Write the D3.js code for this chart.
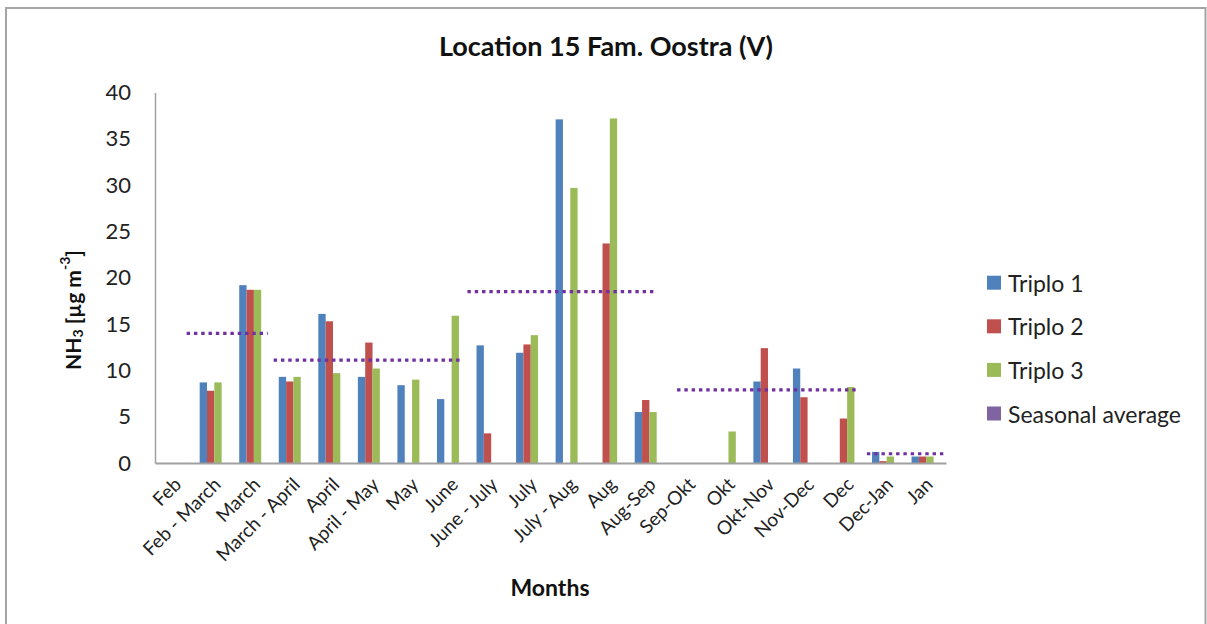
<!DOCTYPE html>
<html><head><meta charset="utf-8">
<script src="https://cdn.jsdelivr.net/npm/d3@7"></script>
<style>body{margin:0;background:#fff}svg{display:block;font-family:Lato,'Open Sans',sans-serif}</style>
</head><body><svg id="c" width="1207" height="624"></svg>
<script>
const categories = ["Feb","Feb - March","March","March - April","April","April - May","May","June","June - July","July","July - Aug","Aug","Aug-Sep","Sep-Okt","Okt","Okt-Nov","Nov-Dec","Dec","Dec-Jan","Jan"];
const triplo1 = [null,8.7,19.2,9.3,16.1,9.3,8.4,6.9,12.7,11.9,37.1,null,5.5,null,null,8.8,10.2,null,1.2,0.7];
const triplo2 = [null,7.8,18.7,8.8,15.3,13.0,null,null,3.2,12.8,null,23.7,6.8,null,null,12.4,7.1,4.8,0.2,0.7];
const triplo3 = [null,8.7,18.7,9.3,9.7,10.2,9.0,15.9,null,13.8,29.7,37.2,5.5,null,3.4,null,null,8.2,0.7,0.7];
const seriesNames = ["Triplo 1","Triplo 2","Triplo 3","Seasonal average"];
const seriesColors = ["#4f81bd","#c0504d","#9bbb59","#8064a2"];
// seasonal averages: value and span in category-index units
const seasonalAvg = [14.0,11.1,18.5,7.9,1.0];
const seasonFrom = [0.8,3.0,7.9,13.2,18.0];
const seasonTo = [2.85,7.8,12.7,17.8,19.95];
const yTicks = [0,5,10,15,20,25,30,35,40];

const svg = d3.select("#c");
const L = 155, R = 946, T = 92.5, B = 463;
const axisColor = "#a0a0a0";

// outer border
svg.append("rect").attr("x",6).attr("y",8).attr("width",1199.5).attr("height",630)
  .attr("fill","none").attr("stroke","#a5a5a5").attr("stroke-width",2);

const y = d3.scaleLinear().domain([0,40]).range([B,T]);
const x0 = d3.scaleBand().domain(categories).range([L,R]).padding(0);
const x1 = d3.scaleBand().domain(seriesNames).range([0,x0.bandwidth()]).paddingInner(0).paddingOuter(0.7);
const xi = d3.scaleLinear().domain([0,categories.length]).range([L,R]);

// bars
const values = [triplo1,triplo2,triplo3];
values.forEach((arr,si)=>{
  svg.append("g").selectAll("rect").data(arr.map((v,i)=>({v,c:categories[i]})).filter(d=>d.v!=null))
    .join("rect")
    .attr("x",d=>x0(d.c)+x1(seriesNames[si]))
    .attr("width",x1.bandwidth())
    .attr("y",d=>y(d.v))
    .attr("height",d=>B-y(d.v))
    .attr("fill",seriesColors[si]);
});

// axes
const yAxis = svg.append("g").attr("transform",`translate(${L},0)`)
  .call(d3.axisLeft(y).tickValues(yTicks).tickSize(0).tickPadding(24));
yAxis.select(".domain").attr("stroke",axisColor).attr("stroke-width",1.5);
yAxis.selectAll("text").attr("font-size",22).attr("fill","#222").attr("font-family","Lato");

const xAxis = svg.append("g").attr("transform",`translate(0,${B})`)
  .call(d3.axisBottom(x0).tickSize(0).tickPadding(0));
xAxis.select(".domain").attr("stroke",axisColor).attr("stroke-width",2);
xAxis.selectAll("text")
  .attr("font-size",19).attr("fill","#222").attr("font-family","Lato")
  .attr("text-anchor","end").attr("dy","0.35em").attr("y",0)
  .attr("transform","translate(3,18) rotate(-45)");

// seasonal average dotted lines
svg.append("g").selectAll("line").data(seasonalAvg.map((v,i)=>({v,f:seasonFrom[i],t:seasonTo[i]})))
  .join("line")
  .attr("x1",d=>xi(d.f)).attr("x2",d=>xi(d.t))
  .attr("y1",d=>y(d.v)).attr("y2",d=>y(d.v))
  .attr("stroke","#7030a0").attr("stroke-width",3.2).attr("stroke-dasharray","3.4,3.9");

// title
svg.append("text").attr("x",606).attr("y",45).attr("text-anchor","middle").attr("dominant-baseline","central")
  .attr("font-size",27).attr("font-weight","bold").attr("fill","#111").text("Location 15 Fam. Oostra (V)");

// y title
const yt = svg.append("text").attr("transform","translate(72,310) rotate(-90)")
  .attr("text-anchor","middle").attr("dominant-baseline","central")
  .attr("font-size",21).attr("font-weight","bold").attr("fill","#111");
yt.append("tspan").text("NH");
yt.append("tspan").attr("font-size",14).attr("dy",5).text("3");
yt.append("tspan").attr("dy",-5).text(" [µg m");
yt.append("tspan").attr("font-size",14).attr("dy",-8).text("-3");
yt.append("tspan").attr("dy",8).text("]");

// x title
svg.append("text").attr("x",550).attr("y",587).attr("text-anchor","middle").attr("dominant-baseline","central")
  .attr("font-size",23).attr("font-weight","bold").attr("fill","#111").text("Months");

// legend
const lg = svg.append("g").selectAll("g").data(seriesNames).join("g")
  .attr("transform",(d,i)=>`translate(987,${282.7+i*43.6})`);
lg.append("rect").attr("x",0).attr("y",-7).attr("width",14).attr("height",14).attr("fill",(d,i)=>seriesColors[i]);
lg.append("text").attr("x",21).attr("y",0).attr("dominant-baseline","central")
  .attr("font-size",23).attr("fill","#222").text(d=>d);
</script></body></html>
